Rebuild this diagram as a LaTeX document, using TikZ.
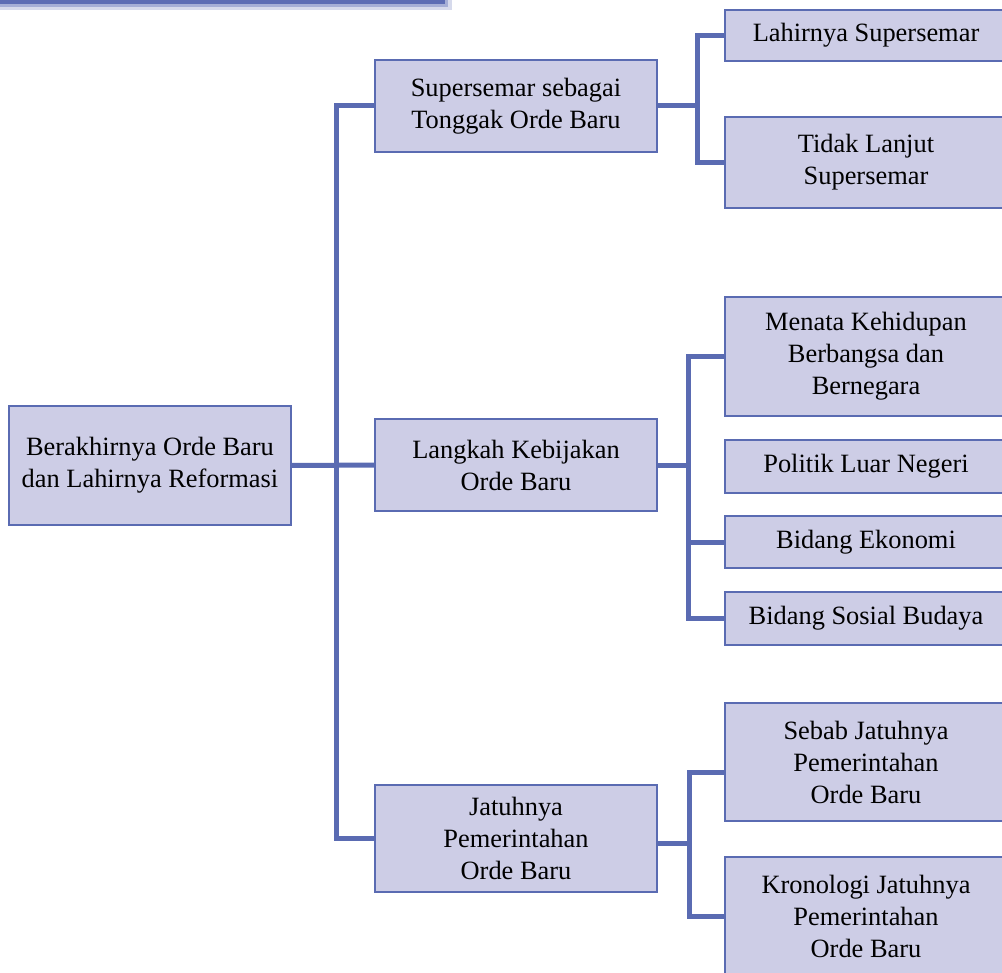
\documentclass[tikz,border=0pt]{standalone}
\usepackage{fontspec}
\setmainfont{Liberation Serif}
\usepackage{tikz}
\usetikzlibrary{positioning,calc}
\definecolor{obLine}{HTML}{5A6BB2}
\definecolor{obFill}{HTML}{CDCDE6}
\definecolor{obBar}{HTML}{5C6CB4}

\begin{document}
\begin{tikzpicture}[
  x=0.75pt,y=-0.75pt,
  font=\fontsize{19.8}{24}\selectfont,
  box/.style={draw=obLine,line width=1.5pt,fill=obFill,align=center,
              inner sep=0pt,minimum width=211.5pt},
  link/.style={draw=obLine,line width=3.75pt,line join=miter}
]
\useasboundingbox (0,0) rectangle (1002,973);
\clip (0,0) rectangle (1002,973);
% top bar
\fill[obBar!25] (0,0) rectangle (452,10);
\fill[obBar!55] (0,0) rectangle (448,7);
\fill[obBar] (0,0) rectangle (445,4);

% first level
\node[box,minimum height=89.25pt] (root)  at (150,465.5) {Berakhirnya Orde Baru\\dan Lahirnya Reformasi};
\node[box,minimum height=69pt]    (sup)   at (516,106)   {Supersemar sebagai\\Tonggak Orde Baru};
\node[box,minimum height=69pt]    (lang)  at (516,465)   {Langkah Kebijakan\\Orde Baru};
\node[box,minimum height=80.25pt] (jatuh) at (516,838.5) {Jatuhnya\\Pemerintahan\\Orde Baru};

% second level
\node[box,minimum height=38.25pt] (lahir)   at (866,35.5)  {Lahirnya Supersemar};
\node[box,minimum height=68.25pt] (tidak)   at (866,162.5) {Tidak Lanjut\\Supersemar};
\node[box,minimum height=89.25pt] (menata)  at (866,356.5) {Menata Kehidupan\\Berbangsa dan\\Bernegara};
\node[box,minimum height=39.75pt] (politik) at (866,466.5) {Politik Luar Negeri};
\node[box,minimum height=39pt]    (ekonomi) at (866,542)   {Bidang Ekonomi};
\node[box,minimum height=39.75pt] (sosial)  at (866,618.5) {Bidang Sosial Budaya};
\node[box,minimum height=88.5pt]  (sebab)   at (866,762)   {Sebab Jatuhnya\\Pemerintahan\\Orde Baru};
\node[box,minimum height=88.5pt]  (krono)   at (866,916)   {Kronologi Jatuhnya\\Pemerintahan\\Orde Baru};

% connectors
\coordinate (f0) at (336,465);
\coordinate (f1) at (697,106);
\coordinate (f2) at (688,465);
\coordinate (f3) at (689,843);

\draw[link] (root) -- (lang);
\draw[link] (sup.west) -| (f0) |- (jatuh.west);

\draw[link] (sup) -- (f1);
\draw[link] (lahir.west) -| (f1) |- (tidak.west);

\draw[link] (lang) -- (f2);
\draw[link] (menata.west) -| (f2) |- (sosial.west);
\draw[link] (f2) |- (ekonomi.west);

\draw[link] (f3 -| jatuh.east) -- (f3);
\draw[link] ([yshift=-7.5pt]sebab.west) -| (f3) |- (krono.west);
\end{tikzpicture}
\end{document}
